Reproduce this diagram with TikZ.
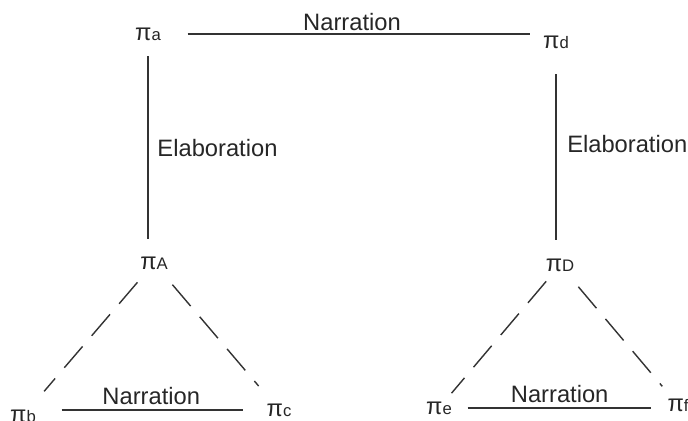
\documentclass[tikz,border=0pt]{standalone}
\usepackage{fontspec}
\setmainfont{Liberation Sans}
\usetikzlibrary{positioning}

\newcommand{\pilabel}[1]{π{\fontsize{9.5}{10}\selectfont #1}}

\begin{document}
\begin{tikzpicture}[x=0.02cm, y=-0.02cm,
		every node/.style={font=\fontsize{13.5}{16}\selectfont, text=black!85},
		seg/.style={inner sep=2pt},
		rel/.style={line width=0.8pt, black!80},
		sub/.style={line width=0.8pt, black!80, dash pattern=on 16pt off 8pt}
	]
	\useasboundingbox (0,0) rectangle (688,421);

	%% upper level
	\node[seg] (pa) at (148,34) {\pilabel{a}};
	\node[seg] (pd) at (556,42) {\pilabel{d}};

	%% topics
	\node[seg] (pA) at (154,263) {\pilabel{A}};
	\node[seg] (pD) at (560,265) {\pilabel{D}};

	%% lower level
	\node[seg] (pb) at (23,416) {\pilabel{b}};
	\node[seg] (pc) at (279,410) {\pilabel{c}};
	\node[seg] (pe) at (439,408) {\pilabel{e}};
	\node[seg] (pf) at (678,405) {\pilabel{f}};

	\draw[rel, shorten <=0.46cm, shorten >=0.18cm] (pa.east) -- (pa.east -| pd.west)
		node[midway, above, inner sep=1.5pt] {Narration};

	\draw[rel, shorten <=0.24cm, shorten >=0.28cm] (pa.south) -- (pa.south |- pA.north)
		node[midway, right, inner sep=5pt] {Elaboration};
	\draw[rel, shorten <=0.44cm, shorten >=0.3cm] (pd.south) -- (pd.south |- pD.north)
		node[midway, right, inner sep=6pt, yshift=0.18cm] {Elaboration};

	%% subordinated parts
	\draw[sub, shorten <=0.24cm, shorten >=0.38cm] (pA) -- (pb);
	\draw[sub, shorten <=0.3cm, shorten >=0.36cm] (pA) -- (pc);
	\draw[sub, shorten <=0.16cm, shorten >=0.12cm] (pD) -- (pe);
	\draw[sub, shorten <=0.3cm, shorten >=0.22cm] (pD) -- (pf);

	\draw[rel, shorten <=0.44cm, shorten >=0.4cm] (pc.west -| pb.east) -- (pc.west)
		node[midway, above, inner sep=2.5pt] {Narration};
	\draw[rel, shorten <=0.24cm, shorten >=0.26cm] (pe.east) -- (pe.east -| pf.west)
		node[midway, above, inner sep=2.5pt] {Narration};
\end{tikzpicture}
\end{document}
